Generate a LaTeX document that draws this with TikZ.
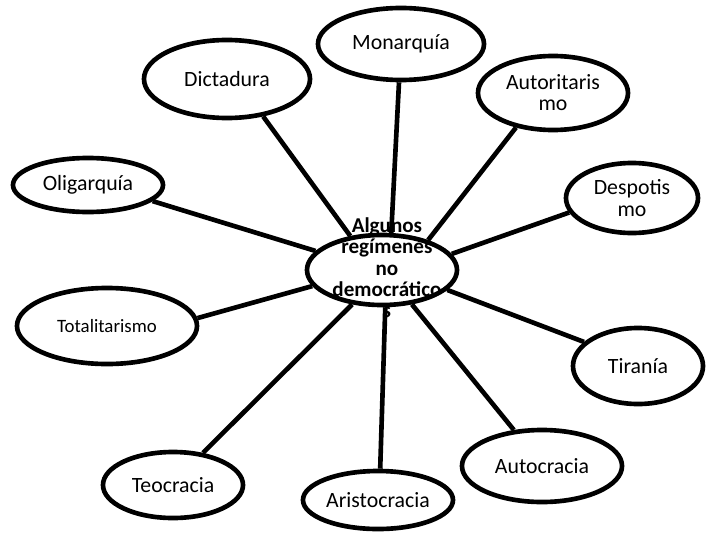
\documentclass[tikz,border=0pt]{standalone}
\usepackage{fontspec}
\setmainfont{Carlito}
\usepackage{tikz}
\usetikzlibrary{shapes,positioning}

\begin{document}
\begin{tikzpicture}[x=0.025cm,y=-0.025cm]
\tikzstyle{regime}=[ellipse, draw=black, line width=3.3pt, inner sep=0pt, align=center, font=\fontsize{15.5}{15}\selectfont]
\tikzstyle{connect}=[line width=3.3pt]

\useasboundingbox (0,0) rectangle (707,532);

	\node[regime, minimum width=3.75cm, minimum height=1.75cm] (cen) at (382,270)
		[label={[font=\bfseries\fontsize{15}{15.2}\selectfont, align=center, inner sep=0pt, yshift=1.5pt, xshift=3.5pt]center:Algunos\\regímenes\\no\\democrático\\s}]{};

	\node[regime, minimum width=4.15cm, minimum height=1.8cm] (mon) at (401,44) {Monarquía};
	\node[regime, minimum width=4.15cm, minimum height=1.95cm] (dic) at (227,79) {Dictadura};
	\node[regime, minimum width=3.75cm, minimum height=1.85cm] (aut) at (553,93) {Autoritaris\\mo};
	\node[regime, minimum width=3.3cm, minimum height=1.75cm] (des) at (632,198) {Despotis\\mo};
	\node[regime, minimum width=3.75cm, minimum height=1.35cm] (oli) at (88,185) {Oligarquía};
	\node[regime, minimum width=4.5cm, minimum height=1.9cm, font=\fontsize{13.4}{14}\selectfont] (tot) at (107,326) {Totalitarismo};
	\node[regime, minimum width=3.25cm, minimum height=1.9cm] (tir) at (638,366) {Tiranía};
	\node[regime, minimum width=4cm, minimum height=1.8cm] (autoc) at (542,466) {Autocracia};
	\node[regime, minimum width=3.5cm, minimum height=1.65cm] (teo) at (173,485) {Teocracia};
	\node[regime, minimum width=3.75cm, minimum height=1.45cm] (ari) at (378,500) {Aristocracia};

	\path[connect]
		(mon.-93) edge [] (cen.76)
		(dic.-46) edge [] (cen.133)
		(aut.-137) edge [] (cen.33)
		(des.-167) edge [] (cen.13)
		(oli.-14) edge [] (cen.164);

	\path[connect]
		(tot.5) edge [] (cen.-167)
		(tir.156) edge [] (cen.-17.5)
		(autoc.128) edge [] (cen.-49)
		(ari.86) edge [] (cen.-85)
		(teo.47) edge [] (cen.-131);

\end{tikzpicture}
\end{document}
